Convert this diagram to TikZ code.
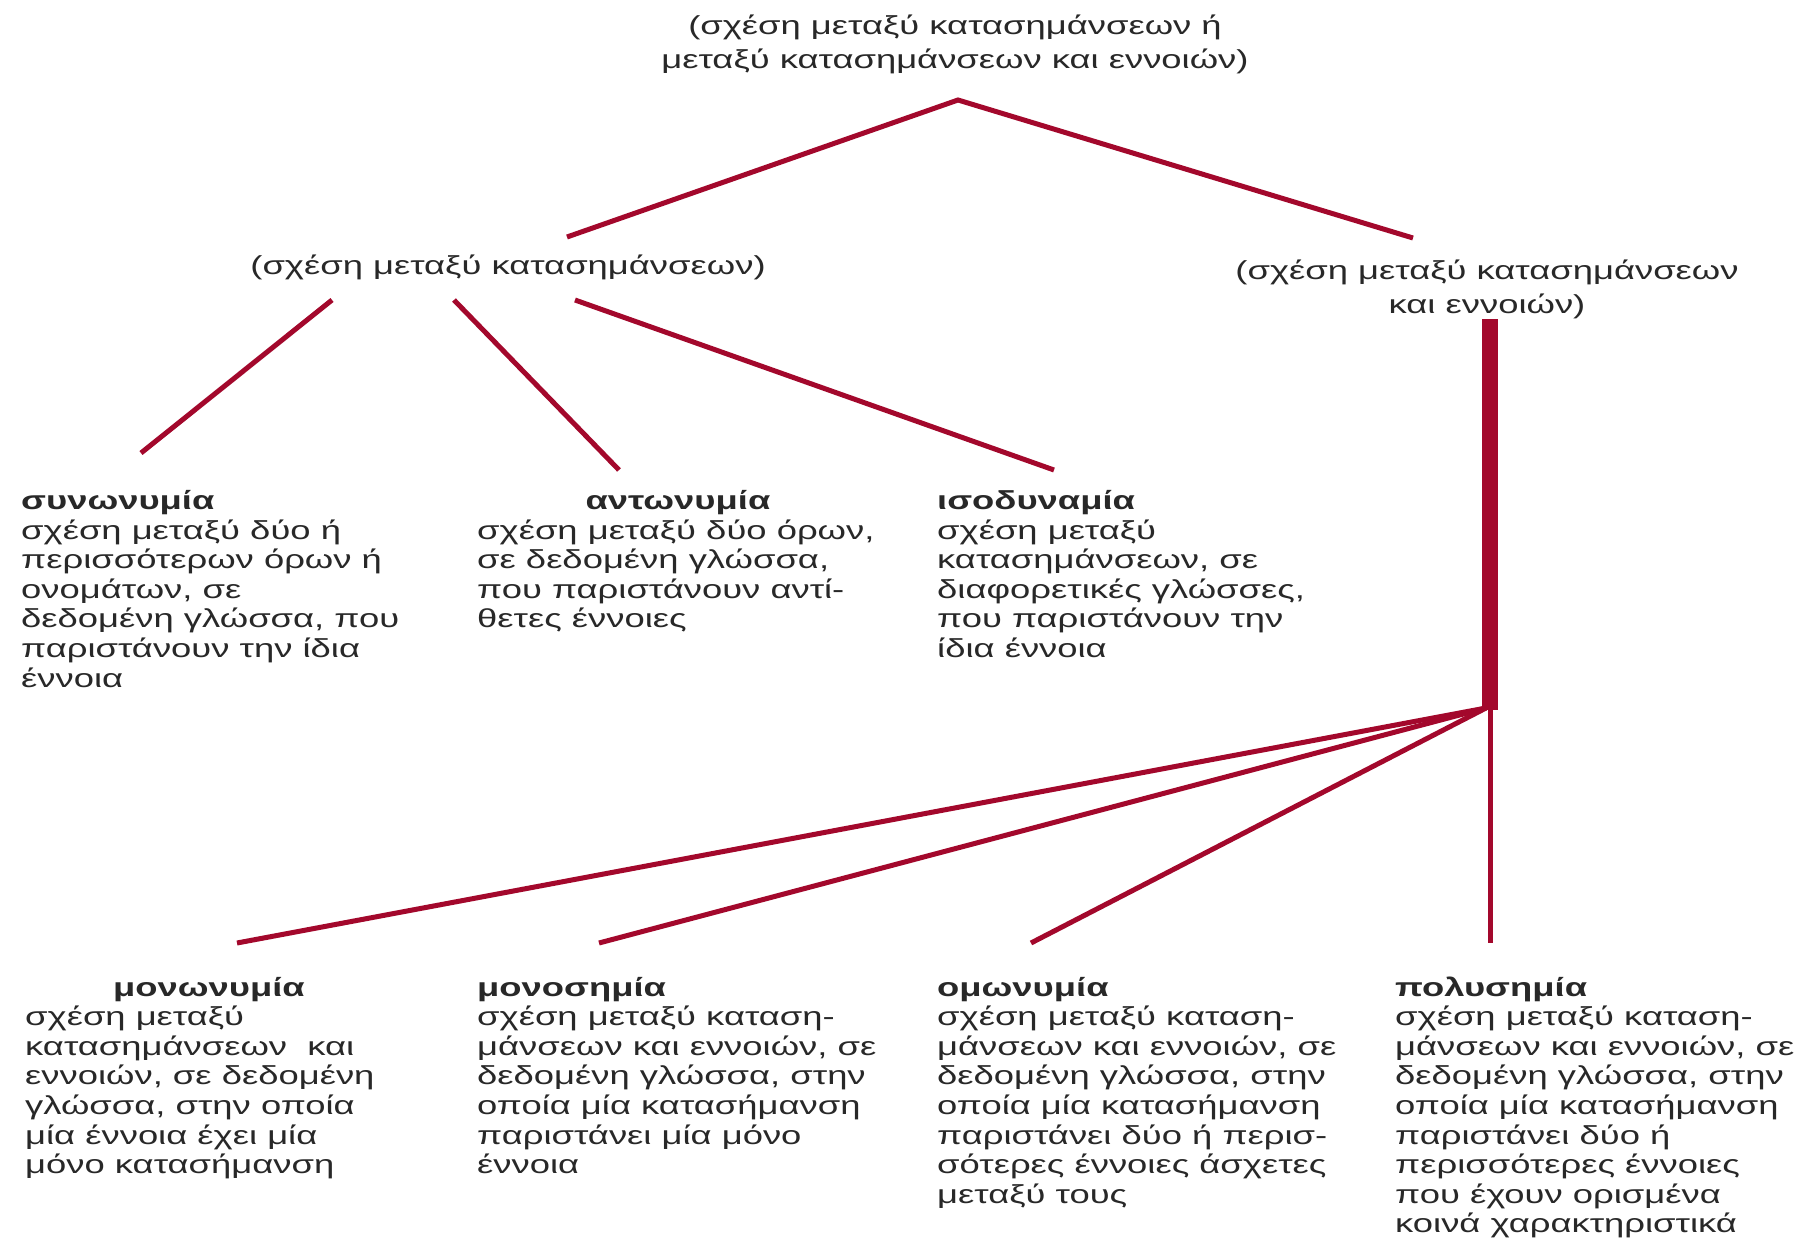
\documentclass[tikz,border=0pt]{standalone}
\usepackage{fontspec}
\setmainfont{Liberation Sans}[FakeStretch=1.4]
\definecolor{dred}{RGB}{163,8,44}
\definecolor{txt}{RGB}{40,40,40}
\tikzset{
  lbl/.style={inner sep=0pt, text=txt, font=\fontsize{26}{29.6}\selectfont},
  body/.style={lbl, align=left, anchor=base west},
  ttl/.style={lbl, anchor=base, font=\fontsize{26}{29.6}\selectfont\bfseries},
  ttlw/.style={lbl, anchor=base west, font=\fontsize{26}{29.6}\selectfont\bfseries},
  head/.style={lbl, align=center, anchor=base, font=\fontsize{26}{34}\selectfont},
  link/.style={draw=dred, line width=5pt},
  bar/.style={draw=dred, line width=16pt}
}
\begin{document}
\begin{tikzpicture}[x=1pt,y=-1pt]
\useasboundingbox[fill=white] (0,0) rectangle (1797,1239);

% headings (anchor = baseline of last line)
\node[head] (top) at (955,69) {(σχέση μεταξύ κατασημάνσεων ή\\μεταξύ κατασημάνσεων και εννοιών)};
\node[head] (midL) at (508,274) {(σχέση μεταξύ κατασημάνσεων)};
\node[head] (midR) at (1487,313) {(σχέση μεταξύ κατασημάνσεων\\και εννοιών)};

% top row
\node[ttlw] (synT) at (21,509.5) {συνωνυμία};
\node[body] (syn) at (21,687.1) {σχέση μεταξύ δύο ή\\περισσότερων όρων ή\\ονομάτων, σε\\δεδομένη γλώσσα, που\\παριστάνουν την ίδια\\έννοια};
\node[ttl] (antT) at (678,509.5) {αντωνυμία};
\node[body] (ant) at (477,627.9) {σχέση μεταξύ δύο όρων,\\σε δεδομένη γλώσσα,\\που παριστάνουν αντί-\\θετες έννοιες};
\node[ttlw] (isoT) at (937,509.5) {ισοδυναμία};
\node[body] (iso) at (937,657.5) {σχέση μεταξύ\\κατασημάνσεων, σε\\διαφορετικές γλώσσες,\\που παριστάνουν την\\ίδια έννοια};

% bottom row
\node[ttl] (monT) at (209,996) {μονωνυμία};
\node[body] (mon) at (25,1173.6) {σχέση μεταξύ\\κατασημάνσεων~ και\\εννοιών, σε δεδομένη\\γλώσσα, στην οποία\\μία έννοια έχει μία\\μόνο κατασήμανση};
\node[ttlw] (mnsT) at (477,996) {μονοσημία};
\node[body] (mns) at (477,1173.6) {σχέση μεταξύ καταση-\\μάνσεων και εννοιών, σε\\δεδομένη γλώσσα, στην\\οποία μία κατασήμανση\\παριστάνει μία μόνο\\έννοια};
\node[ttlw] (omoT) at (937,996) {ομωνυμία};
\node[body] (omo) at (937,1203.2) {σχέση μεταξύ καταση-\\μάνσεων και εννοιών, σε\\δεδομένη γλώσσα, στην\\οποία μία κατασήμανση\\παριστάνει δύο ή περισ-\\σότερες έννοιες άσχετες\\μεταξύ τους};
\node[ttlw] (polT) at (1395,996) {πολυσημία};
\node[body] (pol) at (1395,1232.8) {σχέση μεταξύ καταση-\\μάνσεων και εννοιών, σε\\δεδομένη γλώσσα, στην\\οποία μία κατασήμανση\\παριστάνει δύο ή\\περισσότερες έννοιες\\που έχουν ορισμένα\\κοινά χαρακτηριστικά};

% connector end points
\coordinate (apex) at (958,100);
\coordinate (toL) at (567,237);
\coordinate (toR) at (1413,238);
\coordinate (l1a) at (332,300);
\coordinate (l2a) at (454,300);
\coordinate (l3a) at (575,300);
\coordinate (synE) at (141,453);
\coordinate (antE) at (619,470);
\coordinate (isoE) at (1054,470);
\coordinate (barTop) at (1490,319);
\coordinate (barBot) at (1490,710);
\coordinate (hub) at (1486,708);
\coordinate (monE) at (237,943);
\coordinate (mnsE) at (599,943);
\coordinate (omoE) at (1031,943);
\coordinate (polE) at (1490,943);

\draw[link] (toL) -- (apex) -- (toR);
\draw[link] (l1a) -- (synE);
\draw[link] (l2a) -- (antE);
\draw[link] (l3a) -- (isoE);
\draw[bar] (barTop) -- (barBot);
\draw[link] (hub) -- (monE);
\draw[link] (hub) -- (mnsE);
\draw[link] (hub) -- (omoE);
\draw[link] (barBot) -- (polE);
\end{tikzpicture}
\end{document}
